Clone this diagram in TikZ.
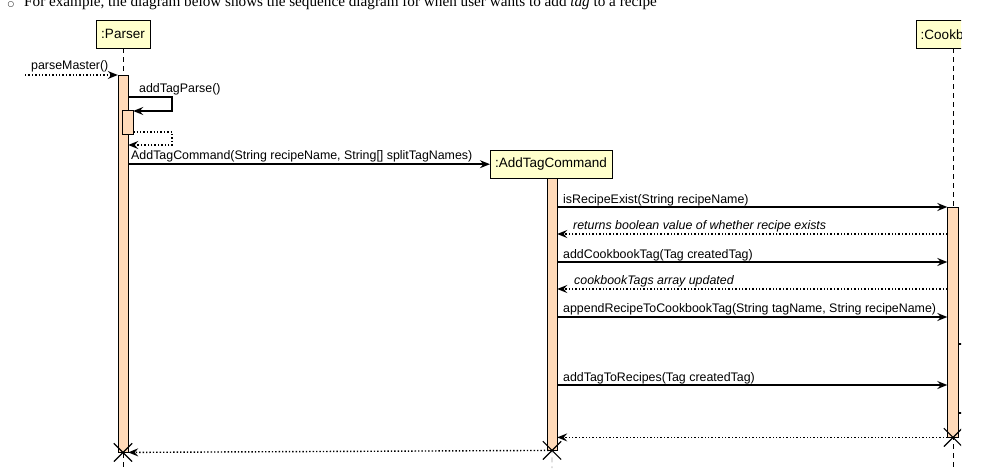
\documentclass[tikz,border=0pt]{standalone}
\usepackage{fontspec}
\setmainfont{Liberation Serif}
\setsansfont{Liberation Sans}
\newfontfamily\symfont{DejaVu Sans}
\usepackage{xcolor}
\usetikzlibrary{arrows.meta,shapes.misc}
\definecolor{lifeyellow}{RGB}{255,255,204}
\definecolor{actpeach}{RGB}{255,218,185}

\begin{document}
\begin{tikzpicture}[x=1pt,y=-1pt,
  lifebox/.style={draw, fill=lifeyellow, font=\sffamily\fontsize{13.5}{15}\selectfont, minimum height=28pt, inner xsep=5pt, anchor=north},
  actbar/.style={draw, fill=actpeach, minimum width=10pt, inner sep=0pt, anchor=north},
  lifeline/.style={dashed, dash pattern=on 5pt off 4pt},
  msg/.style={line width=1.4pt, -{Stealth[length=10pt,width=8pt,inset=3.5pt]}},
  ret/.style={msg, dotted},
  lbl/.style={font=\sffamily\fontsize{12.4}{14}\selectfont, anchor=base west, inner sep=0pt},
  rlbl/.style={lbl, font=\sffamily\itshape\fontsize{12.4}{14}\selectfont},
  destroyed/.style={draw, cross out, minimum size=17pt, line width=1.2pt, inner sep=0pt}]
\useasboundingbox (0,0) rectangle (988,476);
\clip (0,0) rectangle (961,476);

% intro line of the page
\node[font=\symfont\fontsize{7.5}{9}\selectfont, anchor=base, inner sep=0pt] (bullet) at (11,7) {○};
\node[font=\fontsize{15.2}{18}\selectfont, anchor=base west, inner sep=0pt] (intro) at (24,7) {For example, the diagram below shows the sequence diagram for when user wants to add \textit{tag} to a recipe};

% participants
\node[lifebox] (parser) at (123,20) {:Parser};
\node[lifebox] (addtag) at (551,150) {:AddTagCommand};
\node[lifebox] (cookbook) at (953,20) {:Cookbook};

% lifelines
\coordinate (parserEnd) at (123,468);
\coordinate (addtagEnd) at (552,468);
\coordinate (cookbookEnd) at (953,468);
\draw[lifeline] (parser.south) -- (parserEnd);
\draw[lifeline] (addtag.south) -- (addtagEnd);
\draw[lifeline] (cookbook.south) -- (cookbookEnd);

% activations
\node[actbar, minimum height=377pt] (parserAct) at (123,75) {};
\node[actbar, minimum width=11pt, minimum height=24pt] (parseAct) at (127.5,110) {};
\node[actbar, minimum height=272pt] (addtagAct) at (552,178) {};
\node[actbar, minimum width=11pt, minimum height=230pt] (cookbookAct) at (953,207) {};

% calls into parser
\coordinate (caller) at (25,75);
\draw[ret] (caller) -- (parserAct.north west);
\node[lbl] at (31,70) {parseMaster()};

\draw[msg] (parserAct.east |- 0,97) -- (172,97) -- (172,111) -- (parseAct.east |- 0,111);
\node[lbl] at (139,93) {addTagParse()};
\draw[ret] (parseAct.east |- 0,132) -- (172,132) -- (172,145) -- (parserAct.east |- 0,145);

\draw[msg] (parserAct.east |- addtag.west) -- (addtag.west);
\node[lbl] at (131,160) {AddTagCommand(String recipeName, String[] splitTagNames)};

% calls into cookbook
\draw[msg] (addtagAct.east |- 0,207) -- (cookbookAct.north west);
\node[lbl] at (563,203) {isRecipeExist(String recipeName)};
\draw[ret] (cookbookAct.west |- 0,234) -- (addtagAct.east |- 0,234);
\node[rlbl] at (573,229) {returns boolean value of whether recipe exists};

\draw[msg] (addtagAct.east |- 0,262) -- (cookbookAct.west |- 0,262);
\node[lbl] at (563,258) {addCookbookTag(Tag createdTag)};
\draw[ret] (cookbookAct.west |- 0,289) -- (addtagAct.east |- 0,289);
\node[rlbl] at (574,284) {cookbookTags array updated};

\draw[msg] (addtagAct.east |- 0,317) -- (cookbookAct.west |- 0,317);
\node[lbl] at (563,312) {appendRecipeToCookbookTag(String tagName, String recipeName)};
\draw[msg] (cookbookAct.east |- 0,344) -- (985,344) -- (985,358) -- (964,358);

\draw[msg] (addtagAct.east |- 0,385) -- (cookbookAct.west |- 0,385);
\node[lbl] at (563,381) {addTagToRecipes(Tag createdTag)};
\draw[msg] (cookbookAct.east |- 0,413) -- (985,413) -- (985,426) -- (964,426);

% returns and destruction
\node[destroyed] (cookbookX) at (cookbookAct.south) {};
\draw[ret] (cookbookAct.south west) -- (addtagAct.east |- cookbookAct.south);
\node[destroyed] (addtagX) at (addtagAct.south) {};
\node[destroyed] (parserX) at (parserAct.south) {};
\draw[ret] (addtagX.center) -- (parserAct.south east);
\end{tikzpicture}
\end{document}
